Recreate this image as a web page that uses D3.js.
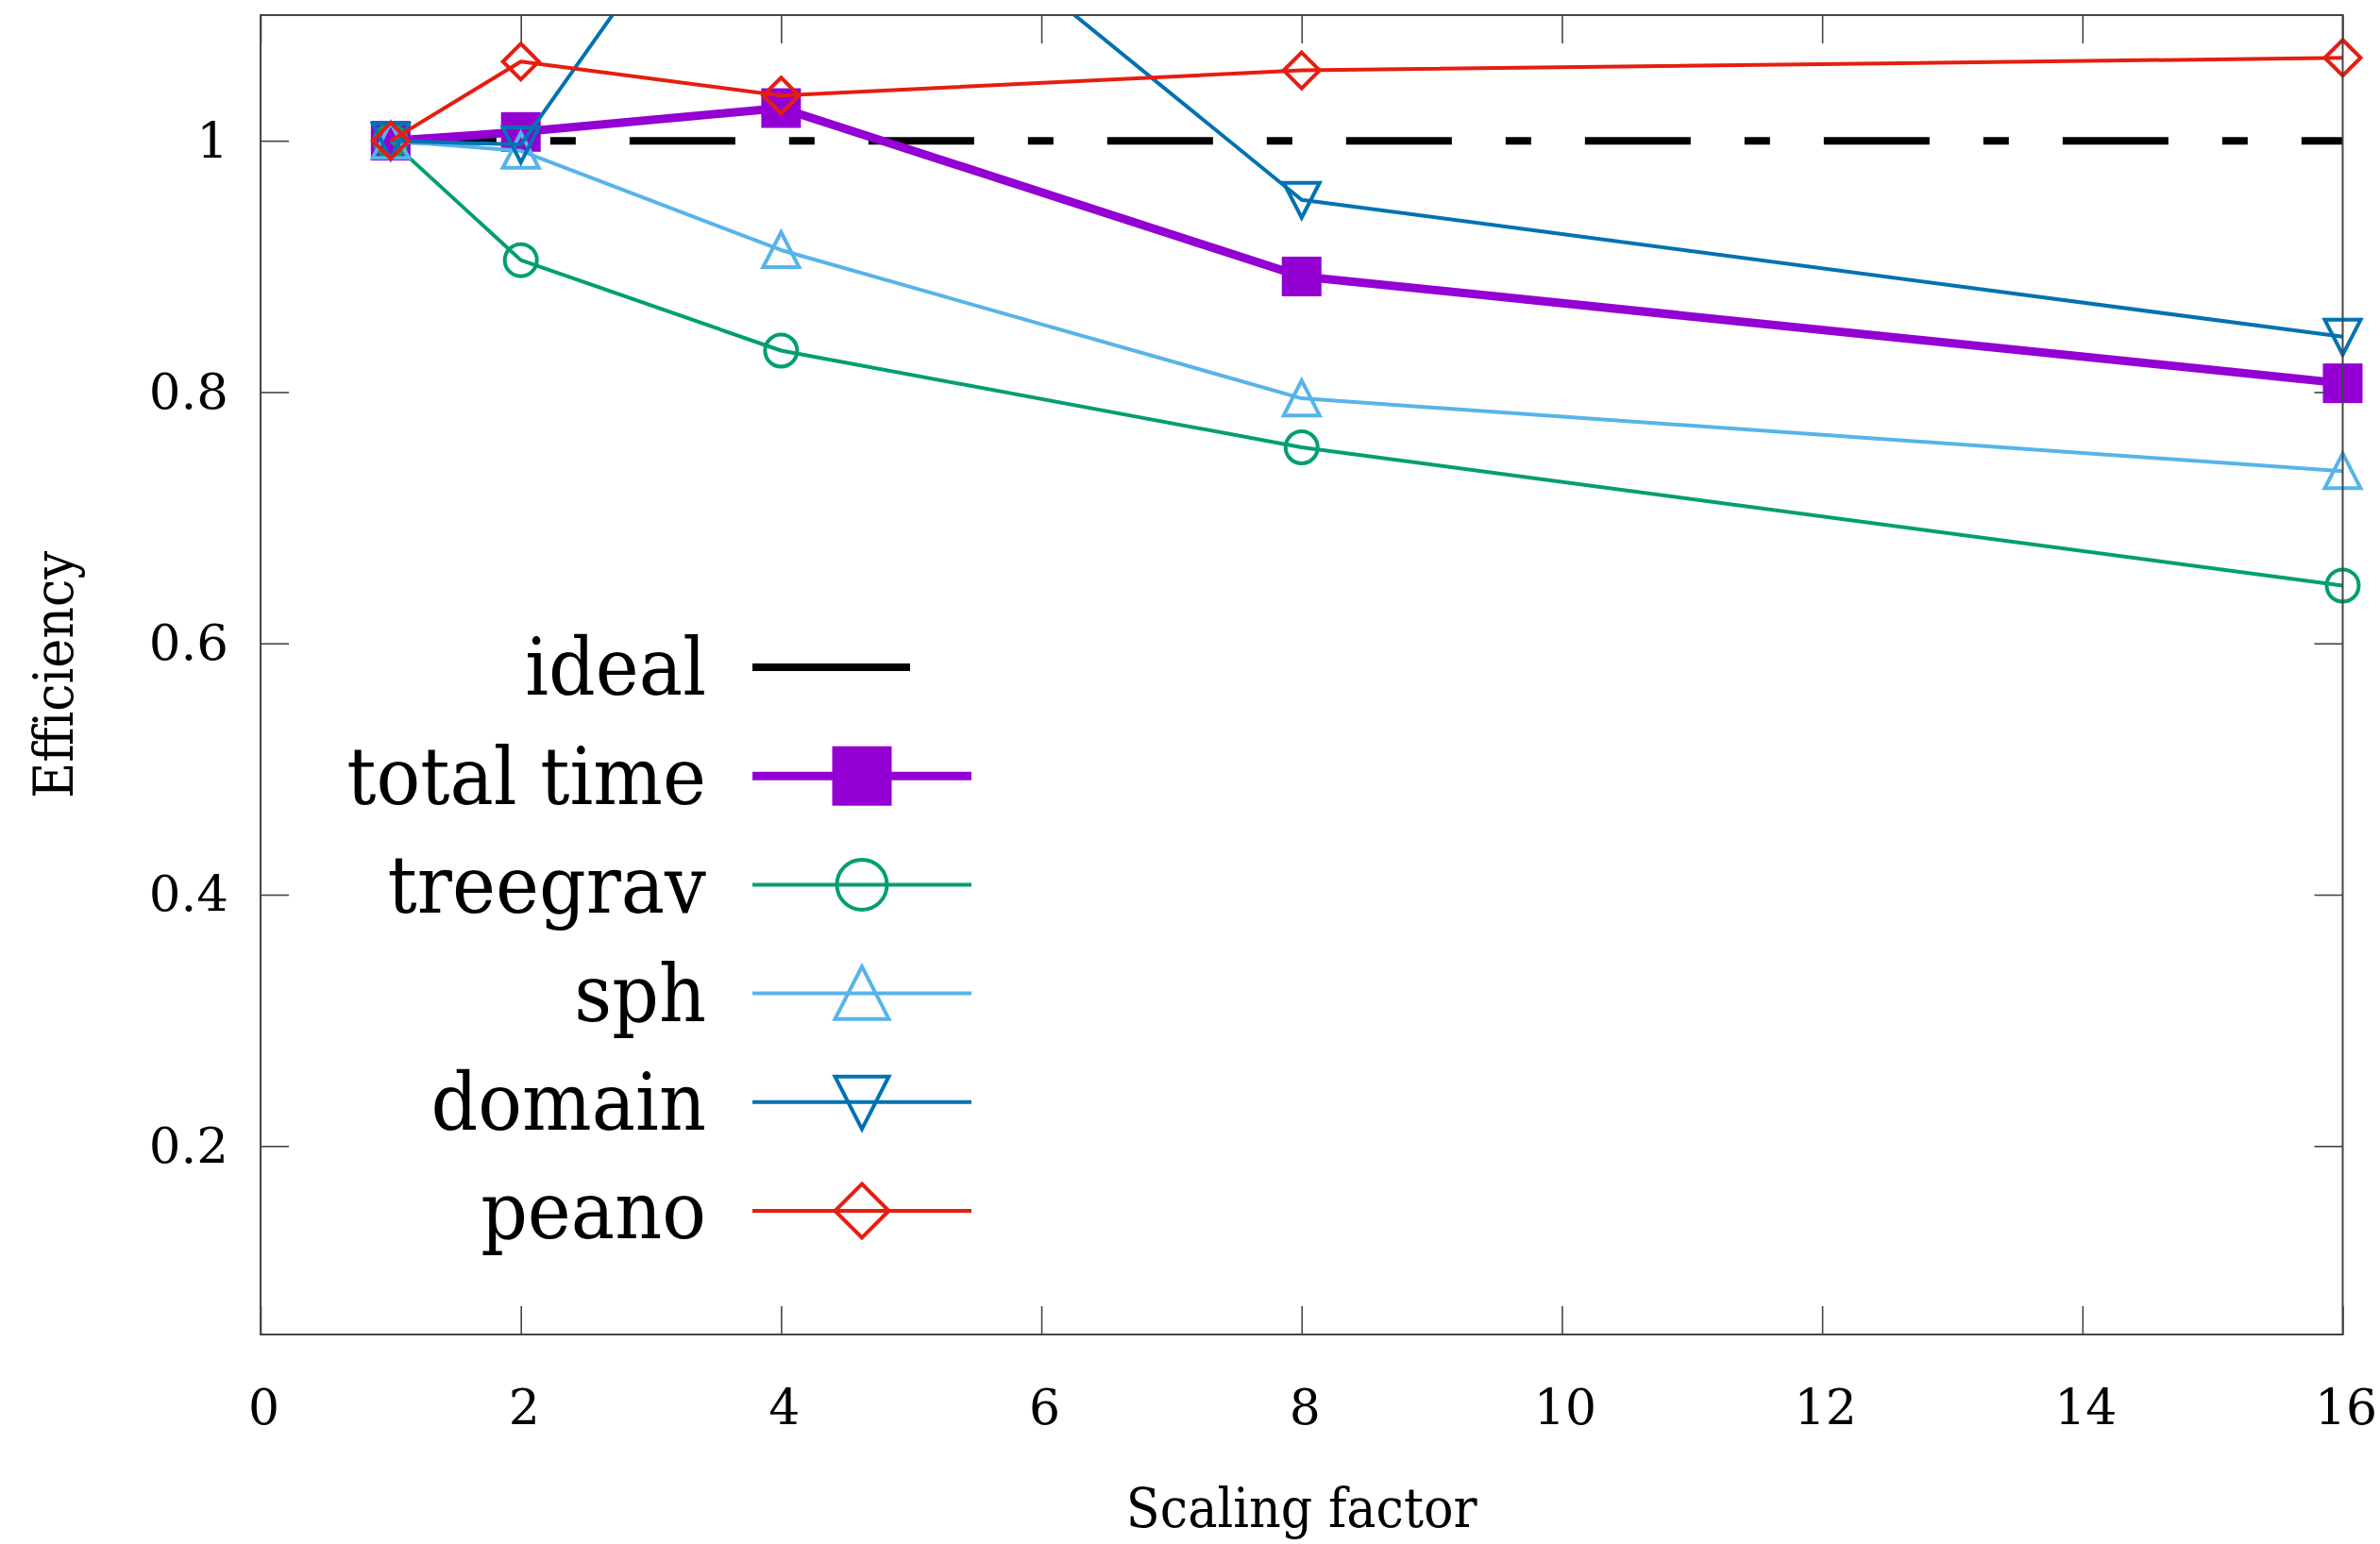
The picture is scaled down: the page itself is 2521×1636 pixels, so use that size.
<!DOCTYPE html>
<html lang="en">
  <head>
    <meta charset="UTF-8" />
    <title>Efficiency vs scaling factor</title>
    <script src="https://d3js.org/d3.v7.min.js"></script>
    <style>
      body {
        margin: 0;
        background: #ffffff;
      }
      .chart text {
        font-family: "DejaVu Serif", serif;
        fill: #000;
      }
    </style>
  </head>
  <body>
    <div class="chart"></div>
  </body>

  <script>
    // data
    var scaling = [1, 2, 4, 8, 16];
    var idealValues = [1, 1, 1, 1, 1];
    var totalTime = [1.0, 1.007, 1.026, 0.892, 0.807];
    var treegrav = [1.0, 0.905, 0.833, 0.756, 0.646];
    var sph = [1.0, 0.992, 0.913, 0.795, 0.737];
    var domain = [1.0, 0.997, 1.29, 0.953, 0.844];
    var peano = [1.0, 1.063, 1.036, 1.056, 1.066];

    var xTicks = [0, 2, 4, 6, 8, 10, 12, 14, 16];
    var yTicks = [0.2, 0.4, 0.6, 0.8, 1];

    var series = [
      { name: "total time", values: totalTime, color: "#9400d3", width: 9, symbol: "square" },
      { name: "treegrav", values: treegrav, color: "#009e73", width: 4, symbol: "circle" },
      { name: "sph", values: sph, color: "#56b4e9", width: 4, symbol: "up" },
      { name: "domain", values: domain, color: "#0072b2", width: 4, symbol: "down" },
      { name: "peano", values: peano, color: "#e51e10", width: 4, symbol: "diamond" },
    ];

    var W = 2521, H = 1636;
    var margin = { top: 16, right: 40, bottom: 222, left: 276 };
    var width = 2481.5 - margin.left;
    var height = 1414 - margin.top;
    var squeeze = 0.92; // reference font is narrower than DejaVu Serif

    var svg = d3
      .select(".chart")
      .append("svg")
      .attr("width", W)
      .attr("height", H);

    var g = svg
      .append("g")
      .attr("transform", "translate(" + margin.left + "," + margin.top + ")");

    var x = d3.scaleLinear().domain([0, 16]).range([0, width]);
    var y = d3.scaleLinear().domain([0.05, 1.1]).range([height, 0]);

    // axes with inward ticks, mirrored on top / right
    var axisColor = "#444";
    function styleAxis(sel) {
      sel.select(".domain").remove();
      sel.selectAll(".tick line").attr("stroke", axisColor).attr("stroke-width", 1.6);
    }

    g.append("g")
      .attr("transform", "translate(0," + height + ")")
      .call(d3.axisBottom(x).tickValues(xTicks).tickSizeInner(-30).tickSizeOuter(0).tickPadding(58))
      .call(styleAxis)
      .selectAll("text")
      .attr("font-size", 52)
      .attr("dx", 3);

    g.append("g")
      .call(d3.axisTop(x).tickValues(xTicks).tickSizeInner(-30).tickSizeOuter(0).tickFormat(""))
      .call(styleAxis);

    g.append("g")
      .call(
        d3.axisLeft(y).tickValues(yTicks).tickSizeInner(-30).tickSizeOuter(0).tickPadding(34)
          .tickFormat(function (d) { return d === 1 ? "1" : d3.format(".1f")(d); })
      )
      .call(styleAxis)
      .selectAll("text")
      .attr("font-size", 53);

    g.append("g")
      .attr("transform", "translate(" + width + ",0)")
      .call(d3.axisRight(y).tickValues(yTicks).tickSizeInner(-30).tickSizeOuter(0).tickFormat(""))
      .call(styleAxis);

    // axis titles
    svg.append("text")
      .attr("transform", "translate(" + (margin.left + width / 2) + ",1618) scale(" + squeeze + ",1)")
      .attr("text-anchor", "middle")
      .attr("font-size", 57)
      .text("Scaling factor");

    svg.append("text")
      .attr("transform", "translate(77," + (margin.top + height / 2) + ") rotate(-90) scale(" + squeeze + ",1)")
      .attr("text-anchor", "middle")
      .attr("font-size", 57)
      .text("Efficiency");

    // clip for the lines
    g.append("clipPath")
      .attr("id", "plot-clip")
      .append("rect")
      .attr("width", width)
      .attr("height", height);

    var line = d3
      .line()
      .x(function (d) { return x(d[0]); })
      .y(function (d) { return y(d[1]); });

    function pairs(vals) {
      return scaling.map(function (s, i) { return [s, vals[i]]; });
    }

    // ideal
    g.append("path")
      .datum(pairs(idealValues))
      .attr("clip-path", "url(#plot-clip)")
      .attr("fill", "none")
      .attr("stroke", "#000")
      .attr("stroke-width", 8)
      .attr("stroke-dasharray", "112,57,27,57")
      .attr("d", line);

    function drawSymbol(sel, type, size, color) {
      var r = size / 2;
      if (type === "square") {
        sel.append("rect")
          .attr("x", -r).attr("y", -r)
          .attr("width", size).attr("height", size)
          .attr("fill", color);
      } else if (type === "circle") {
        sel.append("circle").attr("r", r - 2)
          .attr("fill", "none").attr("stroke", color).attr("stroke-width", 4);
      } else if (type === "up") {
        sel.append("path")
          .attr("d", "M0," + (-r) + "L" + r + "," + r * 0.95 + "L" + (-r) + "," + r * 0.95 + "Z")
          .attr("fill", "none").attr("stroke", color).attr("stroke-width", 4);
      } else if (type === "down") {
        sel.append("path")
          .attr("d", "M0," + r + "L" + r + "," + (-r * 0.95) + "L" + (-r) + "," + (-r * 0.95) + "Z")
          .attr("fill", "none").attr("stroke", color).attr("stroke-width", 4);
      } else if (type === "diamond") {
        sel.append("path")
          .attr("d", "M0," + (-r) + "L" + r + ",0L0," + r + "L" + (-r) + ",0Z")
          .attr("fill", "none").attr("stroke", color).attr("stroke-width", 4);
      }
    }

    var markerSize = { square: 42, circle: 38, up: 38, down: 38, diamond: 38 };

    series.forEach(function (s) {
      g.append("path")
        .datum(pairs(s.values))
        .attr("clip-path", "url(#plot-clip)")
        .attr("fill", "none")
        .attr("stroke", s.color)
        .attr("stroke-width", s.width)
        .attr("stroke-linejoin", "round")
        .attr("d", line);

      pairs(s.values)
        .filter(function (d) { return d[1] <= y.domain()[1]; })
        .forEach(function (d) {
          var m = g.append("g").attr("transform", "translate(" + x(d[0]) + "," + y(d[1]) + ")");
          drawSymbol(m, s.symbol, markerSize[s.symbol], s.color);
        });
    });

    // border
    g.append("rect")
      .attr("width", width)
      .attr("height", height)
      .attr("fill", "none")
      .attr("stroke", axisColor)
      .attr("stroke-width", 2);

    // legend
    var legend = svg.append("g");
    var legendRows = [{ name: "ideal", color: "#000", width: 8, symbol: null }].concat(series);
    legendRows.forEach(function (s, i) {
      var row = legend.append("g").attr("transform", "translate(0," + (707 + i * 115.2) + ")");
      row.append("text")
        .attr("transform", "translate(748,0) scale(0.925,1)")
        .attr("dy", "0.35em")
        .attr("text-anchor", "end")
        .attr("font-size", 84)
        .text(s.name);
      row.append("line")
        .attr("x1", 797)
        .attr("x2", s.symbol ? 1029 : 964)
        .attr("stroke", s.color)
        .attr("stroke-width", s.width);
      if (s.symbol) {
        var m = row.append("g").attr("transform", "translate(913,0)");
        drawSymbol(m, s.symbol, markerSize[s.symbol] * 1.5, s.color);
      }
    });
  </script>
</html>
